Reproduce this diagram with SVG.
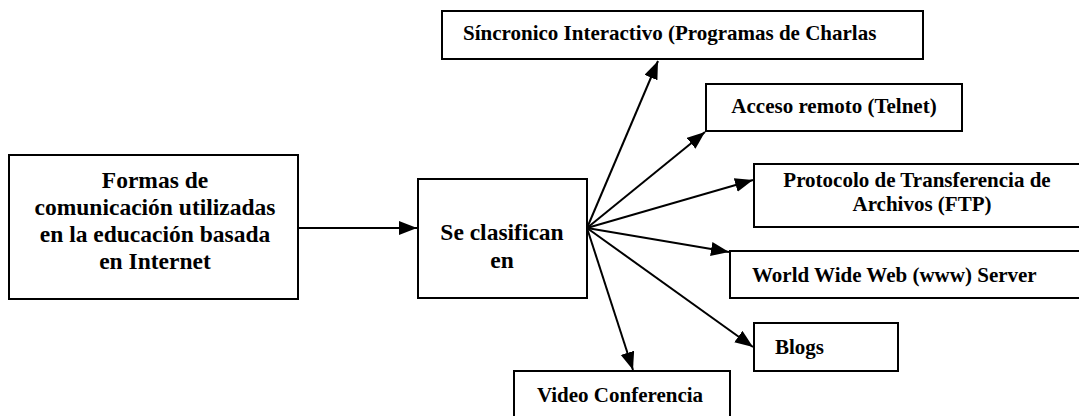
<svg xmlns="http://www.w3.org/2000/svg" width="1079" height="416" viewBox="0 0 1079 416">
<style>
  .box { fill: #fff; stroke: #000; stroke-width: 2; }
  .t { font-family: "Liberation Serif", "Times New Roman", serif; font-weight: bold; fill: #000; }
  .big { font-size: 23.5px; }
  .sm { font-size: 21px; }
  .c { text-anchor: middle; }
  .edge { stroke: #000; stroke-width: 2; fill: none; marker-end: url(#ah); }
</style>
<defs>
  <marker id="ah" markerUnits="userSpaceOnUse" markerWidth="19" markerHeight="15" refX="18" refY="7" orient="auto">
    <path d="M0,0 L18,7 L0,14 z" fill="#000"/>
  </marker>
</defs>
<rect width="1079" height="416" fill="#fff"/>
<g id="n-formas">
  <rect class="box" x="9" y="155" width="289" height="144"/>
  <text class="t big c" x="155" y="188">Formas de</text>
  <text class="t big c" x="155" y="215">comunicación utilizadas</text>
  <text class="t big c" x="155" y="242">en la educación basada</text>
  <text class="t big c" x="155" y="269">en Internet</text>
</g>
<g id="n-clasifican">
  <rect class="box" x="418" y="179" width="169" height="119"/>
  <text class="t big c" x="502" y="240">Se clasifican</text>
  <text class="t big c" x="502" y="268">en</text>
</g>
<g id="n-sincronico">
  <rect class="box" x="442" y="11" width="481" height="48"/>
  <text class="t sm" x="463" y="40">Síncronico Interactivo (Programas de Charlas</text>
</g>
<g id="n-acceso">
  <rect class="box" x="706" y="84" width="256" height="47"/>
  <text class="t sm c" x="834" y="113">Acceso remoto (Telnet)</text>
</g>
<g id="n-ftp">
  <rect class="box" x="754" y="164" width="340" height="63"/>
  <text class="t sm c" x="917" y="187">Protocolo de Transferencia de</text>
  <text class="t sm c" x="922" y="211">Archivos (FTP)</text>
</g>
<g id="n-www">
  <rect class="box" x="730" y="251" width="360" height="47"/>
  <text class="t sm" x="752" y="282">World Wide Web (www) Server</text>
</g>
<g id="n-blogs">
  <rect class="box" x="754" y="323" width="144" height="48"/>
  <text class="t sm" x="775" y="354">Blogs</text>
</g>
<g id="n-video">
  <rect class="box" x="514" y="371" width="216" height="60"/>
  <text class="t sm c" x="620" y="402">Video Conferencia</text>
</g>
<g id="connectors">
  <line class="edge" x1="298" y1="228" x2="417" y2="228"/>
  <line class="edge" x1="587" y1="228" x2="658" y2="61"/>
  <line class="edge" x1="587" y1="228" x2="705" y2="132"/>
  <line class="edge" x1="587" y1="228" x2="753" y2="180"/>
  <line class="edge" x1="587" y1="228" x2="729" y2="252"/>
  <line class="edge" x1="587" y1="228" x2="753" y2="347"/>
  <line class="edge" x1="587" y1="228" x2="633" y2="370"/>
</g>
</svg>
